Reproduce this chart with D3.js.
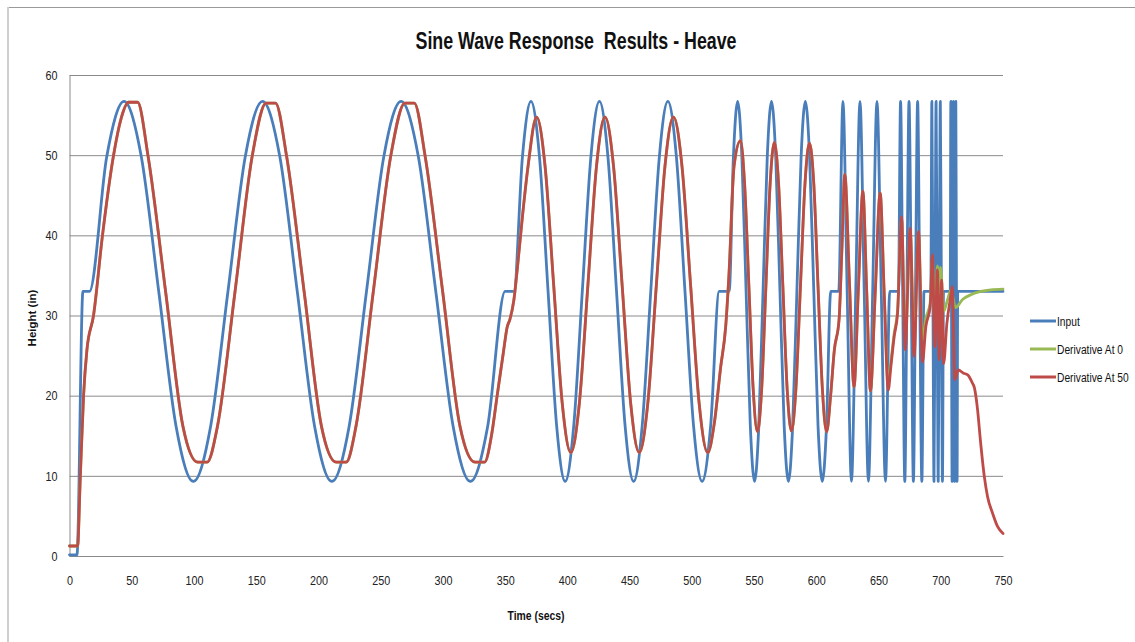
<!DOCTYPE html>
<html><head><meta charset="utf-8">
<script src="https://cdn.jsdelivr.net/npm/d3@7"></script>
<style>body{margin:0;background:#fff;overflow:hidden}</style>
</head><body>
<svg id="chart" width="1135" height="642"></svg>
<script>
const chartTitle = "Sine Wave Response  Results - Heave";
const xTitle = "Time (secs)";
const yTitle = "Height (in)";
const seriesNames = ["Input", "Derivative At 0", "Derivative At 50"];
const xTicks = [0,50,100,150,200,250,300,350,400,450,500,550,600,650,700,750];
const yTicks = [0,10,20,30,40,50,60];

// Input (time, height)
const inputPts = [
[0,0.15],[6,0.15],[10.8,33],[16,33],
[29.9,49.8],[43.8,56.7],[57.7,49.8],[71.7,33],[85.6,16.2],[99.5,9.3],[113.4,16.2],[127.3,33],
[141.2,49.8],[155.1,56.7],[169,49.8],[183,33],[196.9,16.2],[210.8,9.3],[224.7,16.2],[238.6,33],
[252.5,49.8],[266.4,56.7],[280.3,49.8],[294.3,33],[308.2,16.2],[322.1,9.3],[336,16.2],[350,33],
[357,33],
[363.9,49.8],[370.75,56.7],[377.6,49.8],[384.5,33],[391.4,16.2],[398.25,9.3],[405.1,16.2],[412,33],
[418.9,49.8],[425.75,56.7],[432.6,49.8],[439.5,33],[446.4,16.2],[453.25,9.3],[460.1,16.2],[467,33],
[473.9,49.8],[480.75,56.7],[487.6,49.8],[494.5,33],[501.4,16.2],[508.25,9.3],[515.1,16.2],[522,33],
[530,33],
[533.4,49.8],[536.8,56.7],[540.2,49.8],[543.6,33],[547,16.2],[550.4,9.3],[553.8,16.2],[557.2,33],
[560.6,49.8],[564,56.7],[567.4,49.8],[570.8,33],[574.2,16.2],[577.6,9.3],[581,16.2],[584.4,33],
[587.8,49.8],[591.2,56.7],[594.6,49.8],[598,33],[601.4,16.2],[604.8,9.3],[608.2,16.2],[611.6,33],
[618,33],
[621.4,56.7],[624.8,33],[628.25,9.3],[631.7,33],[635.1,56.7],[638.5,33],[641.9,9.3],[645.3,33],[648.75,56.7],[652.2,33],[655.6,9.3],[659,33],
[666,33],
[667.7,56.7],[669.4,33],[671.1,9.3],[672.8,33],[674.5,56.7],[676.3,33],[678,9.3],[679.7,33],[681.4,56.7],[683.1,33],[684.8,9.3],[686.5,33],
[692,33],
[692.85,56.7],[693.7,33],[694.55,9.3],[695.4,33],[696.25,56.7],[697.1,33],[697.95,9.3],[698.8,33],[699.65,56.7],[700.5,33],[701.35,9.3],[702.2,33],
[707.6,33],
[708.1,56.7],[708.6,33],[709.1,9.3],[709.6,33],[710.1,56.7],[710.6,33],[711.1,9.3],[711.6,33],[712.1,56.7],[712.6,33],[713.1,9.3],[713.6,33],
[750,33]
];

// Derivative At 50 (time, height)
const deriv50Pts = [
[0,1.25],[6.5,1.25],[8.6,9.5],[11.3,20],[14,25.7],[19.3,30],[26.5,40],[35.4,50],[41.5,54.6],[47.5,56.6],[54.7,56.6],
[63.2,49.8],[77.2,33],[91.1,16.2],[103,11.7],[110.5,11.7],[118.9,16.2],[133,33],[146.7,49.8],[158,56.5],[165.5,56.5],
[174.5,49.8],[188.5,33],[202.4,16.2],[214.3,11.7],[222.3,11.7],[230.2,16.2],[244.1,33],[258,49.8],[269.5,56.5],[277,56.5],
[285.8,49.8],[299.8,33],[313.7,16.2],[325.8,11.7],[333.5,11.7],
[339,15],[343.6,20],[348.5,25.3],[351.7,28.6],[353.8,29.5],[357,31.9],[359.7,35.7],[364,42.5],[368.4,48.6],
[375.25,54.75],[382.1,48.6],[389,33.8],[395.9,19],[402.75,12.9],[409.6,19],[416.5,33.8],[423.4,48.6],
[430.25,54.75],[437.1,48.6],[444,33.8],[450.9,19],[457.75,12.9],[464.6,19],[471.5,33.8],[478.4,48.6],
[485.25,54.75],[492.1,48.6],[499,33.8],[505.9,19],[512.75,12.9],
[518,16.5],[523.2,23.6],[527.2,28.6],[529.9,35.3],[533.9,48.6],[539,51.8],
[542.4,46.4],[545.85,33.6],[549.3,20.8],[552.7,15.5],[556.1,20.8],[559.5,33.6],[562.9,46.4],[566.3,51.6],
[569.7,46.4],[573.15,33.6],[576.6,20.8],[580,15.6],[583.6,20.8],[587.25,33.6],[590.9,46.4],[594.5,51.5],
[598,46.4],[601.4,33.6],[604.9,20.8],[608.3,15.5],
[611.5,20],[614.5,25.7],[618.3,29.5],[620.5,38],[622.9,47.6],[626.6,34.3],[630.3,21.1],[633.8,33.3],[637.4,45.5],
[640.5,33],[643.5,20.6],[647.4,33],[651.3,45.3],[654.5,33],[657.8,20.7],
[659.9,23.6],[662.6,27.4],[665.3,30.3],[668.5,42.3],[671.4,25.7],[675.4,40.9],[678.6,24.9],[682.1,40.5],[685.3,24.2],
[688,28.6],[691.5,31.1],[693.3,37.6],[695.2,26.1],[697.3,35.7],[698.7,24.5],[700.7,34.4],[702.3,24],
[704.9,29],[707.6,32],[709.2,33.6],[711.3,22],[714,23.2],[718.3,22.8],[721.6,22.6],[725.5,21.55],[727,21],
[729.6,18.2],[731.8,14.5],[735,9.9],[737.6,7.4],[741.7,5.3],[745.7,3.65],[750,2.8]
];

// Derivative At 0: same as Derivative At 50 until ~657 s, then this tail
const deriv0Tail = [
[657.8,21.5],[659.9,24.2],[662.6,27.8],[665.3,30.6],[668.5,42],[671.4,27.2],[675.4,40.6],[678.6,26.6],[682.1,40.2],[685.3,27],
[688,29.6],[691.5,31.6],[693.3,37],[695.2,29],[697.3,36.2],[698.7,28.6],[699.8,36],[702.3,30.5],[705.5,32],[708.2,33.2],
[711.8,31],[717.5,32],[724.2,32.6],[732.3,33],[740.3,33.2],[750,33.3]
];
const deriv0Pts = deriv50Pts.filter(d => d[0] < 657).concat(deriv0Tail);

const seriesData = [inputPts, deriv0Pts, deriv50Pts];
const seriesColors = ["#4A7EBB", "#98B954", "#BE4B48"];

const W = 1135, H = 642;
const svg = d3.select("#chart");
svg.append("rect").attr("width", W).attr("height", H).attr("fill", "#fff");
// outer chart border
svg.append("line").attr("x1", 8).attr("x2", W).attr("y1", 7.5).attr("y2", 7.5).attr("stroke", "#9a9a9a").attr("stroke-width", 1);
svg.append("line").attr("x1", 8).attr("x2", 8).attr("y1", 7).attr("y2", H).attr("stroke", "#cfcfcf").attr("stroke-width", 2);

const x = d3.scaleLinear().domain([0, 750]).range([69.5, 1003]);
const y = d3.scaleLinear().domain([0, 60]).range([556, 75]);

const tickFont = "'Liberation Sans', Arial, sans-serif";
const sx = 0.8;

// Y axis with gridlines
const gy = svg.append("g").attr("transform", `translate(${x(0)},0)`)
  .call(d3.axisLeft(y).tickValues(yTicks).tickSize(-(x(750) - x(0))).tickSizeOuter(0).tickPadding(15));
gy.select(".domain").attr("stroke", "#8a8a8a").attr("stroke-width", 1);
gy.selectAll(".tick line").attr("stroke", "#8a8a8a").attr("stroke-width", 1);
gy.selectAll(".tick text").attr("font-family", tickFont).attr("font-size", 13.5).attr("fill", "#222")
  .attr("transform", `scale(${sx},1)`);

// X axis
const gx = svg.append("g").attr("transform", `translate(0,${y(0)})`)
  .call(d3.axisBottom(x).tickValues(xTicks).tickSize(0).tickSizeOuter(0).tickPadding(19));
gx.select(".domain").attr("stroke", "#8a8a8a").attr("stroke-width", 1);
gx.selectAll(".tick text").attr("font-family", tickFont).attr("font-size", 13.5).attr("fill", "#222")
  .attr("transform", `scale(${sx},1)`);

// Series lines
const line = d3.line().x(d => x(d[0])).y(d => y(d[1])).curve(d3.curveMonotoneX);
svg.append("g").selectAll("path").data(seriesData).join("path")
  .attr("d", line)
  .attr("fill", "none")
  .attr("stroke", (d, i) => seriesColors[i])
  .attr("stroke-width", 2.8)
  .attr("stroke-linejoin", "round")
  .attr("stroke-linecap", "round");

// Title
svg.append("text").attr("x", 576).attr("y", 49).attr("text-anchor", "middle")
  .style("white-space", "pre").attr("xml:space", "preserve")
  .attr("font-family", tickFont).attr("font-size", 24).attr("font-weight", "bold").attr("fill", "#111")
  .attr("textLength", 321).attr("lengthAdjust", "spacingAndGlyphs")
  .text(chartTitle);

// Axis titles
svg.append("text").attr("x", 536).attr("y", 620).attr("text-anchor", "middle")
  .attr("font-family", tickFont).attr("font-size", 13).attr("font-weight", "bold").attr("fill", "#111")
  .attr("textLength", 57).attr("lengthAdjust", "spacingAndGlyphs")
  .text(xTitle);
svg.append("text").attr("transform", "translate(36,318) rotate(-90)").attr("text-anchor", "middle")
  .attr("font-family", tickFont).attr("font-size", 11.5).attr("font-weight", "bold").attr("fill", "#111")
  .text(yTitle);

// Legend
const legY = [321, 349, 377];
const leg = svg.append("g").selectAll("g").data(seriesNames).join("g")
  .attr("transform", (d, i) => `translate(1030,${legY[i]})`);
leg.append("line").attr("x1", 0).attr("x2", 26).attr("y1", 0).attr("y2", 0)
  .attr("stroke", (d, i) => seriesColors[i]).attr("stroke-width", 3);
leg.append("text").attr("x", 0).attr("y", 0)
  .attr("transform", "translate(27,5) scale(0.76,1)")
  .attr("font-family", tickFont).attr("font-size", 13.5).attr("fill", "#111")
  .text(d => d);
</script>
</body></html>
